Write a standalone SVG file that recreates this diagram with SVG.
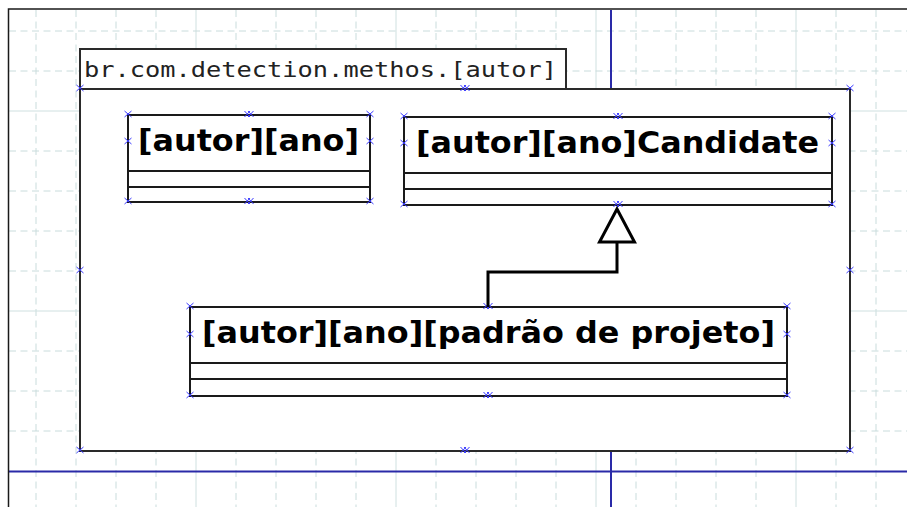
<svg xmlns="http://www.w3.org/2000/svg" width="907" height="507" viewBox="0 0 907 507">
  <defs>
    <style>
      .minor { stroke: #c9dcdc; stroke-width: 1; stroke-dasharray: 7 4.5; }
      .major { stroke: #cfe0e0; stroke-width: 1; }
      .page { stroke: #2a2aa8; stroke-width: 2; }
      .frame { stroke: #1a1a1a; stroke-width: 1.5; fill: none; }
      .box { fill: #ffffff; stroke: #1a1a1a; stroke-width: 2; }
      .sep { stroke: #1a1a1a; stroke-width: 2; }
      .pkg { fill: #ffffff; stroke: #2a2a2a; stroke-width: 2; }
      .pkgname { font-family: "DejaVu Sans Mono", "Liberation Mono", monospace; font-size: 22px; fill: #222222; }
      .cname { font-family: "DejaVu Sans", "Noto Sans", sans-serif; font-weight: bold; font-size: 30px; fill: #000000; }
      .cp { stroke: #3b3bff; stroke-width: 1; fill: none; }
      .gen { stroke: #000000; stroke-width: 3; fill: none; }
      .genhead { stroke: #000000; stroke-width: 3; fill: #ffffff; stroke-linejoin: miter; }
    </style>
    <path id="cpx" class="cp" d="M-3.5,-3 L3.5,3 M-3.5,3 L3.5,-3"/>
    <path id="cpxx" class="cp" d="M-4.5,-3 L1,3 M-4.5,3 L1,-3 M-1,-3 L4.5,3 M-1,3 L4.5,-3"/>
  </defs>

  <!-- canvas background -->
  <rect x="0" y="0" width="907" height="507" fill="#ffffff"/>

  <!-- grid -->
  <g id="grid">
    <line class="minor" x1="36" y1="10" x2="36" y2="507"/>
    <line class="minor" x1="76" y1="10" x2="76" y2="507"/>
    <line class="minor" x1="116" y1="10" x2="116" y2="507"/>
    <line class="minor" x1="156" y1="10" x2="156" y2="507"/>
    <line class="major" x1="196" y1="10" x2="196" y2="507"/>
    <line class="minor" x1="236" y1="10" x2="236" y2="507"/>
    <line class="minor" x1="276" y1="10" x2="276" y2="507"/>
    <line class="minor" x1="316" y1="10" x2="316" y2="507"/>
    <line class="minor" x1="356" y1="10" x2="356" y2="507"/>
    <line class="major" x1="396" y1="10" x2="396" y2="507"/>
    <line class="minor" x1="436" y1="10" x2="436" y2="507"/>
    <line class="minor" x1="476" y1="10" x2="476" y2="507"/>
    <line class="minor" x1="516" y1="10" x2="516" y2="507"/>
    <line class="minor" x1="556" y1="10" x2="556" y2="507"/>
    <line class="major" x1="596" y1="10" x2="596" y2="507"/>
    <line class="minor" x1="636" y1="10" x2="636" y2="507"/>
    <line class="minor" x1="676" y1="10" x2="676" y2="507"/>
    <line class="minor" x1="716" y1="10" x2="716" y2="507"/>
    <line class="minor" x1="756" y1="10" x2="756" y2="507"/>
    <line class="major" x1="796" y1="10" x2="796" y2="507"/>
    <line class="minor" x1="836" y1="10" x2="836" y2="507"/>
    <line class="minor" x1="876" y1="10" x2="876" y2="507"/>

    <line class="minor" x1="9" y1="31" x2="907" y2="31"/>
    <line class="minor" x1="9" y1="71" x2="907" y2="71"/>
    <line class="major" x1="9" y1="111" x2="907" y2="111"/>
    <line class="minor" x1="9" y1="151" x2="907" y2="151"/>
    <line class="minor" x1="9" y1="191" x2="907" y2="191"/>
    <line class="minor" x1="9" y1="231" x2="907" y2="231"/>
    <line class="minor" x1="9" y1="271" x2="907" y2="271"/>
    <line class="major" x1="9" y1="311" x2="907" y2="311"/>
    <line class="minor" x1="9" y1="351" x2="907" y2="351"/>
    <line class="minor" x1="9" y1="391" x2="907" y2="391"/>
    <line class="minor" x1="9" y1="431" x2="907" y2="431"/>
  </g>

  <!-- page break lines -->
  <g id="pages">
    <line class="page" x1="611" y1="10" x2="611" y2="507"/>
    <line class="page" x1="9" y1="471.5" x2="907" y2="471.5"/>
  </g>

  <!-- canvas frame -->
  <path class="frame" d="M8.5,507 L8.5,9 L907,9"/>

  <!-- package -->
  <g id="package">
    <rect class="pkg" x="80" y="49" width="486" height="40"/>
    <rect class="pkg" x="80" y="89" width="770" height="362"/>
    <text class="pkgname" x="84" y="77" textLength="473" lengthAdjust="spacingAndGlyphs">br.com.detection.methos.[autor]</text>
    <use href="#cpx" x="80" y="88"/>
    <use href="#cpxx" x="465" y="88"/>
    <use href="#cpx" x="850" y="88"/>
    <use href="#cpx" x="80" y="270"/>
    <use href="#cpx" x="850" y="270"/>
    <use href="#cpx" x="80" y="450"/>
    <use href="#cpxx" x="465" y="450"/>
    <use href="#cpx" x="850" y="450"/>
  </g>

  <!-- class [autor][ano] -->
  <g id="class-autor-ano">
    <rect class="box" x="128" y="115" width="242" height="87"/>
    <line class="sep" x1="128" y1="171" x2="370" y2="171"/>
    <line class="sep" x1="128" y1="187" x2="370" y2="187"/>
    <text class="cname" x="138" y="151" textLength="221" lengthAdjust="spacingAndGlyphs">[autor][ano]</text>
    <use href="#cpx" x="128" y="114"/>
    <use href="#cpxx" x="249" y="114"/>
    <use href="#cpx" x="370" y="114"/>
    <use href="#cpx" x="128" y="141"/>
    <use href="#cpx" x="370" y="141"/>
    <use href="#cpx" x="128" y="201"/>
    <use href="#cpxx" x="249" y="201"/>
    <use href="#cpx" x="370" y="201"/>
  </g>

  <!-- class [autor][ano]Candidate -->
  <g id="class-candidate">
    <rect class="box" x="404" y="117" width="428" height="88"/>
    <line class="sep" x1="404" y1="173" x2="832" y2="173"/>
    <line class="sep" x1="404" y1="189" x2="832" y2="189"/>
    <text class="cname" x="416" y="153" textLength="403" lengthAdjust="spacingAndGlyphs">[autor][ano]Candidate</text>
    <use href="#cpx" x="404" y="116"/>
    <use href="#cpxx" x="618" y="116"/>
    <use href="#cpx" x="832" y="116"/>
    <use href="#cpx" x="404" y="143"/>
    <use href="#cpx" x="832" y="143"/>
    <use href="#cpx" x="404" y="204"/>
    <use href="#cpxx" x="618" y="204"/>
    <use href="#cpx" x="832" y="204"/>
  </g>

  <!-- class [autor][ano][padrão de projeto] -->
  <g id="class-padrao">
    <rect class="box" x="190" y="307" width="597" height="89"/>
    <line class="sep" x1="190" y1="363" x2="787" y2="363"/>
    <line class="sep" x1="190" y1="379" x2="787" y2="379"/>
    <text class="cname" x="202" y="343" textLength="573" lengthAdjust="spacingAndGlyphs">[autor][ano][padrão de projeto]</text>
    <use href="#cpx" x="190" y="306"/>
    <use href="#cpxx" x="488" y="306"/>
    <use href="#cpx" x="787" y="306"/>
    <use href="#cpx" x="190" y="334"/>
    <use href="#cpx" x="787" y="334"/>
    <use href="#cpx" x="190" y="395"/>
    <use href="#cpxx" x="488" y="395"/>
    <use href="#cpx" x="787" y="395"/>
  </g>

  <!-- connectors -->
  <g id="connectors">
    <polyline class="gen" points="488,307 488,272 617,272 617,242"/>
    <polygon class="genhead" points="617,209 634.5,242 599.5,242"/>
  </g>
</svg>
